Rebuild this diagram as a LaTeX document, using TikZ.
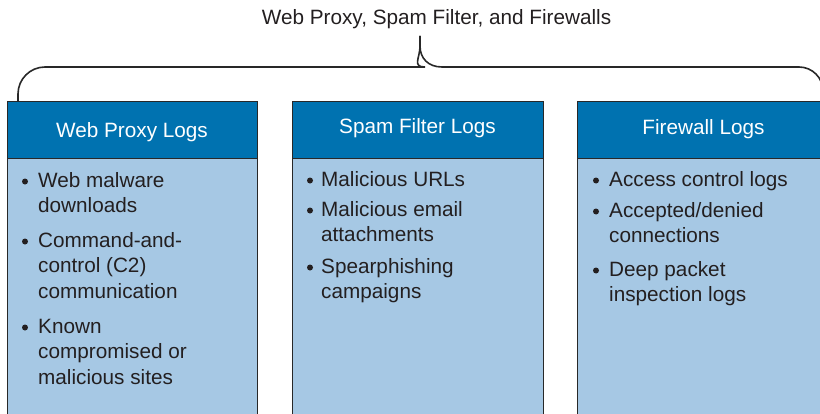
\documentclass[tikz,border=0pt]{standalone}
\usepackage{fontspec}
\setmainfont{Liberation Sans}
\definecolor{hdrblue}{RGB}{0,114,176}
\definecolor{bodyblue}{RGB}{166,200,228}
\definecolor{edge}{RGB}{40,40,40}
\definecolor{ink}{RGB}{35,31,32}
\begin{document}
\begin{tikzpicture}[x=1bp,y=1bp,
  txt/.style={font=\fontsize{20.8}{25.5}\selectfont, text=ink, inner sep=0pt, align=left, anchor=base west},
  hdrtxt/.style={font=\fontsize{20.8}{25}\selectfont, text=white, inner sep=0pt, anchor=base},
  hdr/.style={draw=edge, line width=1.4bp, fill=hdrblue, inner sep=0pt, anchor=north west, minimum height=57bp},
  panel/.style={draw=edge, line width=1.4bp, fill=bodyblue, inner sep=0pt, anchor=north west, minimum height=290bp},
  dot/.style={circle, fill=ink, inner sep=0pt, minimum size=6bp},
  bracestyle/.style={draw=edge, line width=1.6bp}]
\useasboundingbox (0,0) rectangle (820,413);
\clip (0,0) rectangle (820,413);

% title
\node[font=\fontsize{20.8}{25}\selectfont, text=ink, inner sep=0pt, anchor=base] (title) at (436.5,388) {Web Proxy, Spam Filter, and Firewalls};

% brace
\coordinate (bl) at (18,312);
\coordinate (br) at (823,312);
\coordinate (tip) at (420,377);
\draw[bracestyle] (bl) [rounded corners=27bp] |- (398,346) [sharp corners] .. controls (412,346) and (420,355) .. (420,367) -- (tip);
\draw[bracestyle] (tip) -- (420,367) .. controls (420,355) and (428,346) .. (442,346) [rounded corners=24bp] -| (br);

% panels
\node[panel, minimum width=250bp] (body1) at (7,255) {};
\node[panel, minimum width=251bp] (body2) at (292,255) {};
\node[panel, minimum width=260bp] (body3) at (577,255) {};

\node[hdr, minimum width=250bp] (head1) at (7,312) {};
\node[hdr, minimum width=251bp] (head2) at (292,312) {};
\node[hdr, minimum width=260bp] (head3) at (577,312) {};

\node[hdrtxt] (head1t) at (132,276) {Web Proxy Logs};
\node[hdrtxt] (head2t) at (417.5,280) {Spam Filter Logs};
\node[hdrtxt] (head3t) at (703.5,279) {Firewall Logs};

% box 1 items (anchor = baseline of last line)
\node[dot] (b1a) at (25,231.5) {};
\node[txt] (t1a) at (38,200.5) {Web malware\\downloads};
\node[dot] (b1b) at (25,171.5) {};
\node[txt] (t1b) at (38,115) {Command-and-\\control (C2)\\communication};
\node[dot] (b1c) at (25,85.5) {};
\node[txt] (t1c) at (38,29) {Known\\compromised or\\malicious sites};

% box 2 items
\node[dot] (b2a) at (310,232.5) {};
\node[txt] (t2a) at (321,227) {Malicious URLs};
\node[dot] (b2b) at (310,202.5) {};
\node[txt] (t2b) at (321,171.5) {Malicious email\\attachments};
\node[dot] (b2c) at (310,145.5) {};
\node[txt] (t2c) at (321,114.5) {Spearphishing\\campaigns};

% box 3 items
\node[dot] (b3a) at (596,232.5) {};
\node[txt] (t3a) at (609,227) {Access control logs};
\node[dot] (b3b) at (596,201.5) {};
\node[txt] (t3b) at (609,170.5) {Accepted/denied\\connections};
\node[dot] (b3c) at (596,142.5) {};
\node[txt] (t3c) at (609,111.5) {Deep packet\\inspection logs};
\end{tikzpicture}
\end{document}
